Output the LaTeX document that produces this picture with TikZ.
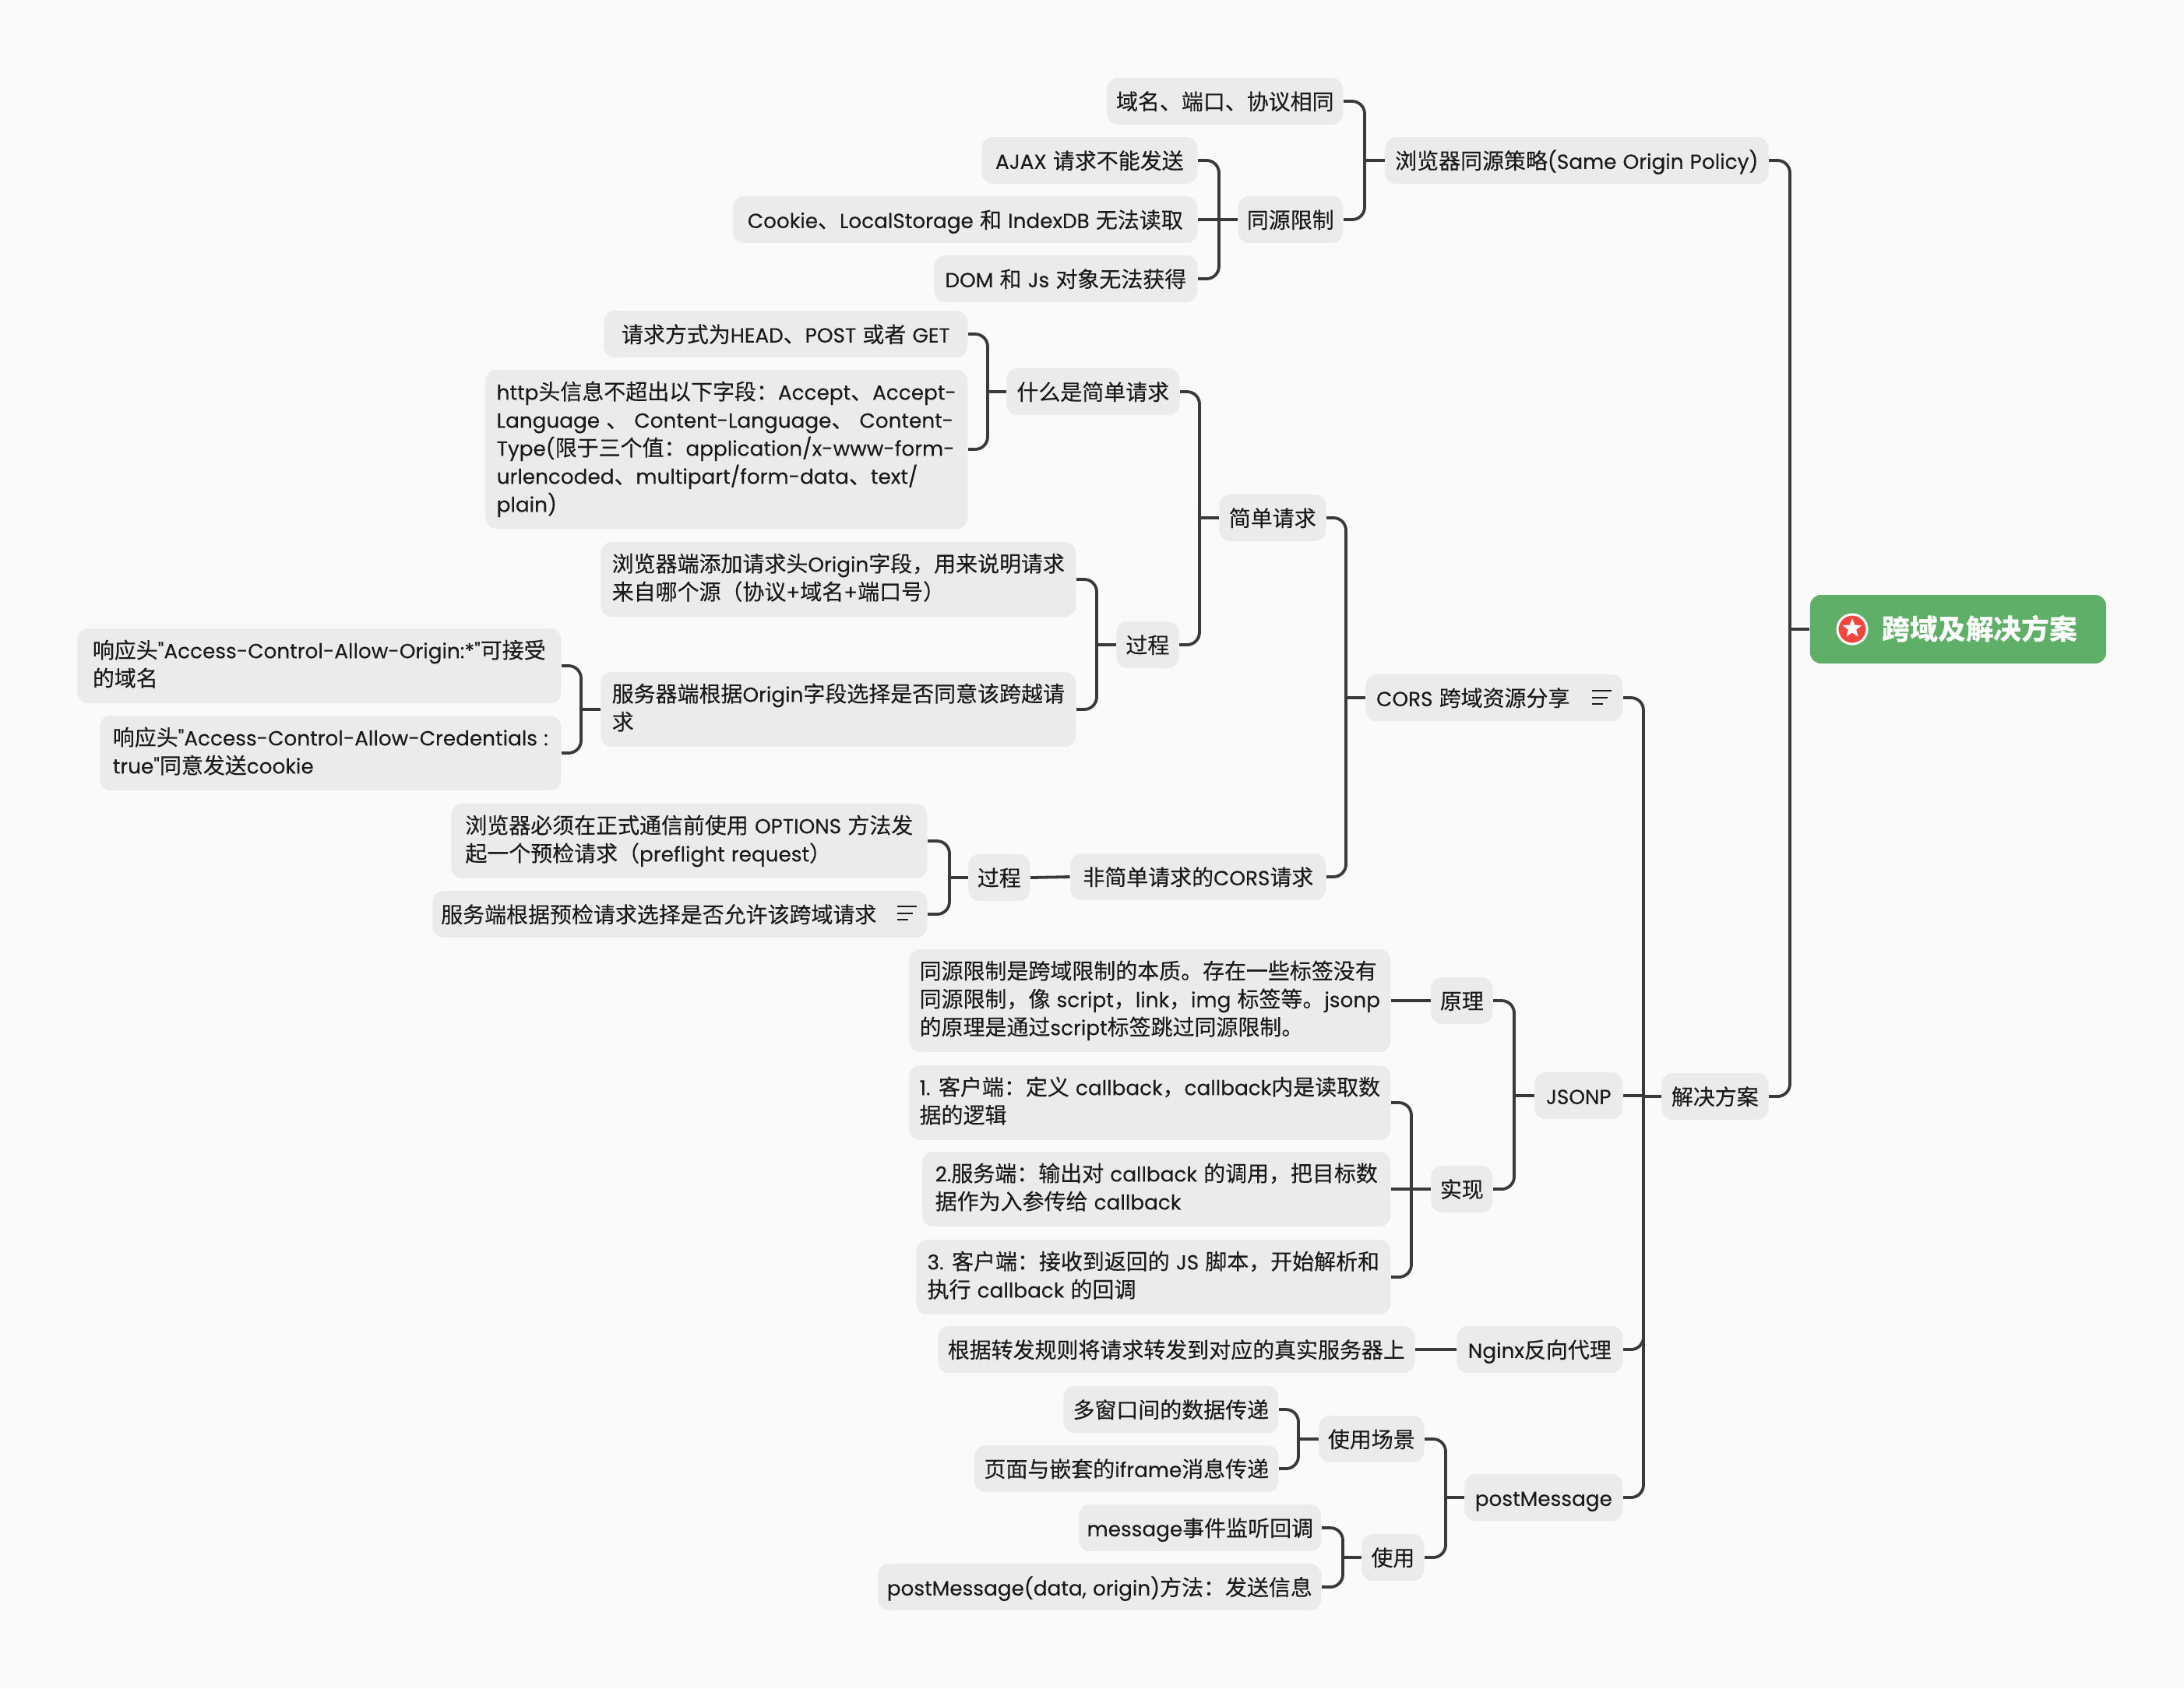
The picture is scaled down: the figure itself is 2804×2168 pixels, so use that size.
\documentclass[tikz,border=0pt]{standalone}
\usepackage{fontspec}
\setmainfont{Poppins}[Scale=.94,WordSpace=1.08,Ligatures=TeXOff,UprightFeatures={FakeBold=.2}]
\newfontfamily\cjkfont{Noto Sans CJK SC}[UprightFeatures={FakeBold=.2}]
\newfontfamily\latinfont{Poppins}[Scale=.94,WordSpace=1.08,Ligatures=TeXOff,UprightFeatures={FakeBold=.2}]
\usetikzlibrary{positioning,shapes.geometric}

\newXeTeXintercharclass\cjkclass
\newcount\cjkcode
\def\markcjk#1#2{\cjkcode=#1 \loop\XeTeXcharclass\cjkcode=\cjkclass \ifnum\cjkcode<#2 \advance\cjkcode by 1 \repeat}
\markcjk{"3000}{"303F}
\markcjk{"4E00}{"9FFF}
\markcjk{"FF00}{"FF5E}
\XeTeXinterchartokenstate=1
\XeTeXinterchartoks 0 \cjkclass = {\cjkfont}
\XeTeXinterchartoks 4095 \cjkclass = {\cjkfont}
\XeTeXinterchartoks \cjkclass 0 = {\latinfont}
\XeTeXinterchartoks \cjkclass 4095 = {\latinfont}

\definecolor{pagebg}{HTML}{FAFAFA}
\definecolor{boxgray}{HTML}{EBEBEB}
\definecolor{inkdark}{HTML}{1A1A1A}
\definecolor{linkdark}{HTML}{3A3A3A}
\definecolor{rootgreen}{HTML}{5FAF69}
\definecolor{starred}{HTML}{F4463F}

\def\boxstrut{\vrule height 8.2pt depth 2.04pt width 0pt}

\tikzset{
  topic/.style={fill=boxgray, text=inkdark, rounded corners=.14cm, anchor=east, align=left,
    inner xsep=.06cm, inner ysep=0, minimum height=.6cm,
    font=\fontsize{7.95}{10.24}\selectfont,
    execute at begin node=\boxstrut, execute at end node=\boxstrut},
  wd/.style={minimum width=#1*.01cm},
  rows/.style={minimum height=(24+36*#1)*.01cm},
  link/.style={draw=linkdark, line width=.038cm, rounded corners=.16cm},
  note/.style={draw=inkdark, line width=.024cm}
}

\begin{document}
\begin{tikzpicture}[x=.01cm, y=-.01cm]

\fill[pagebg] (0,0) rectangle (2804,2168);
\useasboundingbox (0,0) rectangle (2804,2168);

\node [fill=rootgreen, text=white, rounded corners=.14cm, minimum width=3.8cm, minimum height=.88cm, inner sep=0,
  font=\fontsize{10.2}{12}\selectfont\bfseries] (root) at (2514,808) {\hspace*{.56cm}跨域及解决方案};
\node [circle, draw=white, fill=starred, line width=.03cm, inner sep=0, minimum size=.38cm] (rootIcon) at (2378,808) {};
\node [star, star points=5, star point ratio=2.4, fill=white, inner sep=0, minimum size=.26cm] (rootStar) at (2378,807) {};

\node [topic, wd=492] (policy) at (2271,206) {浏览器同源策略(Same Origin Policy)};
\node [topic, wd=303] (same) at (1725,130) {域名、端口、协议相同};
\node [topic, wd=135] (limit) at (1725,282) {同源限制};
\node [topic, wd=277] (ajax) at (1538,206) {AJAX 请求不能发送};
\node [topic, wd=596] (cookie) at (1538,282) {Cookie、LocalStorage 和 IndexDB 无法读取};
\node [topic, wd=338] (dom) at (1538,358) {DOM 和 Js 对象无法获得};

\node [topic, wd=137] (solve) at (2271,1408) {解决方案};
\node [topic, wd=330] (cors) at (2084,896) {CORS 跨域资源分享\hspace*{.54cm}};
\node [topic, wd=137] (simple) at (1703,665) {简单请求};
\node [topic, wd=222] (whatis) at (1515,503) {什么是简单请求};
\node [topic, wd=467] (method) at (1243,429) {请求方式为HEAD、POST 或者 GET};
\node [topic, wd=619, rows=5] (header) at (1243,577) {http头信息不超出以下字段：Accept、Accept-\\Language 、 Content-Language、 Content-\\Type(限于三个值：application/x-www-form-\\urlencoded、multipart/form-data、text/\\plain)};
\node [topic, wd=80] (flow) at (1514,828) {过程};
\node [topic, wd=610, rows=2] (origin) at (1382,744) {浏览器端添加请求头Origin字段，用来说明请求\\来自哪个源（协议+域名+端口号）};
\node [topic, wd=610, rows=2] (agree) at (1382,911) {服务器端根据Origin字段选择是否同意该跨越请\\求};
\node [topic, wd=621, rows=2] (allow) at (721,855) {响应头"Access-Control-Allow-Origin:*"可接受\\的域名};
\node [topic, wd=592, rows=2] (cred) at (721,967) {响应头"Access-Control-Allow-Credentials :\\true"同意发送cookie};
\node [topic, wd=328] (complex) at (1703,1126) {非简单请求的CORS请求};
\node [topic, wd=79] (flowB) at (1323,1127) {过程};
\node [topic, wd=611, rows=2] (options) at (1191,1080) {浏览器必须在正式通信前使用 OPTIONS 方法发\\起一个预检请求（preflight request）};
\node [topic, wd=635] (preflight) at (1191,1174) {服务端根据预检请求选择是否允许该跨域请求\hspace*{.54cm}};

\node [topic, wd=113] (jsonp) at (2084,1407) {JSONP};
\node [topic, wd=79] (theory) at (1917,1285) {原理};
\node [topic, wd=618, rows=3] (essence) at (1786,1285) {同源限制是跨域限制的本质。存在一些标签没有\\同源限制，像 script，link，img 标签等。jsonp\\的原理是通过script标签跳过同源限制。};
\node [topic, wd=79] (impl) at (1917,1527) {实现};
\node [topic, wd=618, rows=2] (stepA) at (1786,1416) {1. 客户端：定义 callback，callback内是读取数\\据的逻辑};
\node [topic, wd=601, rows=2] (stepB) at (1786,1527) {2.服务端：输出对 callback 的调用，把目标数\\据作为入参传给 callback};
\node [topic, wd=609, rows=2] (stepC) at (1786,1640) {3. 客户端：接收到返回的 JS 脚本，开始解析和\\执行 callback 的回调};
\node [topic, wd=213] (nginx) at (2084,1733) {Nginx反向代理};
\node [topic, wd=612] (forward) at (1817,1733) {根据转发规则将请求转发到对应的真实服务器上};
\node [topic, wd=203] (post) at (2084,1923) {postMessage};
\node [topic, wd=135] (scene) at (1829,1848) {使用场景};
\node [topic, wd=276] (multi) at (1642,1810) {多窗口间的数据传递};
\node [topic, wd=390] (iframe) at (1642,1886) {页面与嵌套的iframe消息传递};
\node [topic, wd=80] (usage) at (1829,2000) {使用};
\node [topic, wd=311] (listen) at (1697,1962) {message事件监听回调};
\node [topic, wd=569] (send) at (1697,2038) {postMessage(data, origin)方法：发送信息};

\coordinate (rootJ) at (2298,808);
\coordinate (policyJ) at (1752,206);
\coordinate (limitJ) at (1565,282);
\coordinate (solveJ) at (2110,1408);
\coordinate (corsJ) at (1728,896);
\coordinate (simpleJ) at (1540,665);
\coordinate (whatisJ) at (1268,503);
\coordinate (flowJ) at (1408,828);
\coordinate (agreeJ) at (746,911);
\coordinate (flowBJ) at (1219,1127);
\coordinate (jsonpJ) at (1944,1407);
\coordinate (implJ) at (1812,1527);
\coordinate (postJ) at (1856,1923);
\coordinate (sceneJ) at (1667,1848);
\coordinate (usageJ) at (1724,2000);

\draw[link] (root.west) -- (rootJ);
\draw[link] (policy.east) -| (rootJ) |- (solve.east);

\draw[link] (policy.west) -- (policyJ);
\draw[link] (same.east) -| (policyJ) |- (limit.east);
\draw[link] (ajax.east) -| (limitJ) |- (dom.east);
\draw[link] (cookie.east) -- (limit.west);

\draw[link] (solve.west) -- (solveJ);
\draw[link] (cors.east) -| (solveJ) |- (post.east);
\draw[link] (jsonp.east) -- (jsonp.east -| solveJ);
\draw[link] (nginx.east) -| (solveJ);

\draw[link] (cors.west) -- (corsJ);
\draw[link] (simple.east) -| (corsJ) |- (complex.east);
\draw[link] (simple.west) -- (simpleJ);
\draw[link] (whatis.east) -| (simpleJ) |- (flow.east);
\draw[link] (whatis.west) -- (whatisJ);
\draw[link] (method.east) -| (whatisJ) |- (header.east);
\draw[link] (flow.west) -- (flowJ);
\draw[link] (origin.east) -| (flowJ) |- (agree.east);
\draw[link] (agree.west) -- (agreeJ);
\draw[link] (allow.east) -| (agreeJ) |- (cred.east);
\draw[link] (complex.west) -- (flowB.east);
\draw[link] (flowB.west) -- (flowBJ);
\draw[link] (options.east) -| (flowBJ) |- (preflight.east);

\draw[link] (jsonp.west) -- (jsonpJ);
\draw[link] (theory.east) -| (jsonpJ) |- (impl.east);
\draw[link] (theory.west) -- (essence.east);
\draw[link] (impl.west) -- (implJ);
\draw[link] (stepA.east) -| (implJ) |- (stepC.east);
\draw[link] (stepB.east) -- (implJ);
\draw[link] (nginx.west) -- (forward.east);

\draw[link] (post.west) -- (postJ);
\draw[link] (scene.east) -| (postJ) |- (usage.east);
\draw[link] (scene.west) -- (sceneJ);
\draw[link] (multi.east) -| (sceneJ) |- (iframe.east);
\draw[link] (usage.west) -- (usageJ);
\draw[link] (listen.east) -| (usageJ) |- (send.east);

\draw[note] (2044,887) -- (2069,887);
\draw[note] (2044,896) -- (2064,896);
\draw[note] (2044,904) -- (2058,904);
\draw[note] (1152,1164) -- (1177,1164);
\draw[note] (1152,1173) -- (1172,1173);
\draw[note] (1152,1181) -- (1166,1181);

\end{tikzpicture}
\end{document}
